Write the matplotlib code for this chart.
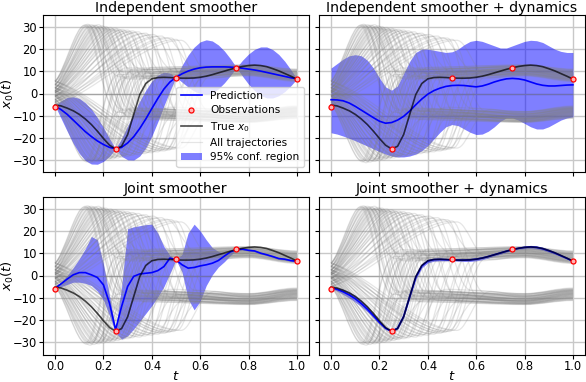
import numpy as np
import matplotlib
matplotlib.use("Agg")
import matplotlib.pyplot as plt
from matplotlib.path import Path
from matplotlib.patches import PathPatch, Patch
from matplotlib.lines import Line2D

# ---------------- data ----------------
t_grid = np.arange(41) * 0.025

obs_t = [0.0, 0.25, 0.5, 0.75, 1.0]
obs_v = [-5.9, -25.0, 7.2, 11.7, 6.5]

true_x0 = [-5.2, -5.6, -6.6, -7.8, -9.4, -11.5, -14.0, -17.0, -20.3, -23.3, -25.0,
           -23.8, -18.5, -9.5, -0.5, 4.5, 6.6, 7.2, 7.3, 7.2, 7.0,
           6.9, 6.9, 7.0, 7.3, 7.8, 8.5, 9.3, 10.1, 10.9, 11.6,
           12.2, 12.6, 12.8, 12.6, 12.1, 11.2, 10.2, 9.0, 7.8, 6.5]

# Independent smoother
pred1 = [-5.6, -7.3, -9.4, -12.0, -14.6, -17.2, -19.4, -21.4, -23.0, -24.3, -24.9,
         -24.3, -22.3, -19.5, -15.8, -11.5, -6.8, -2.2, 2.0, 5.2, 7.3,
         8.9, 10.1, 11.0, 11.6, 11.9, 12.0, 12.0, 12.0, 11.9, 11.7,
         11.4, 11.0, 10.6, 10.1, 9.5, 8.9, 8.3, 7.7, 7.1, 6.6]
lo1 = [-5.6, -11.3, -17.0, -22.5, -27.0, -30.2, -31.8, -31.9, -30.6, -28.3, -24.9,
       -28.3, -29.9, -30.0, -28.2, -24.5, -19.2, -12.7, -5.6, 1.2, 7.3,
       5.1, 2.9, 1.1, -0.1, -0.4, 0.3, 2.1, 4.8, 8.1, 11.7,
       7.8, 4.2, 1.3, -0.8, -2.0, -2.0, -1.0, 0.9, 3.5, 6.6]
hi1 = [-5.6, -3.3, -1.8, -1.5, -2.2, -4.2, -7.0, -10.9, -15.4, -20.3, -24.9,
       -20.3, -14.7, -9.0, -3.4, 1.5, 5.6, 8.3, 9.6, 9.2, 7.3,
       12.7, 17.3, 20.9, 23.3, 24.2, 23.7, 21.9, 19.2, 15.7, 11.7,
       15.0, 17.8, 19.9, 21.0, 21.0, 19.8, 17.6, 14.5, 10.7, 6.6]

# Independent smoother + dynamics
pred2 = [-2.8, -2.9, -3.3, -4.3, -5.8, -7.5, -9.2, -10.9, -12.5, -13.4, -13.1,
         -12.0, -10.3, -7.9, -5.1, -2.5, -0.3, 1.3, 2.4, 3.2, 3.6,
         3.7, 3.6, 3.3, 3.0, 3.4, 4.2, 5.2, 6.0, 6.6, 6.8,
         6.6, 6.1, 5.2, 4.3, 3.7, 3.4, 3.4, 3.6, 3.8, 3.9]
lo2 = [-17.7, -18.3, -19.2, -20.2, -21.3, -22.5, -23.7, -25.0, -26.2, -27.3, -28.2,
       -28.6, -28.6, -28.2, -27.3, -25.8, -23.5, -20.5, -17.5, -15.0, -14.0,
       -14.5, -16.0, -17.5, -18.5, -18.3, -17.0, -15.0, -12.5, -11.0, -11.0,
       -12.0, -13.5, -15.0, -16.0, -16.0, -15.0, -13.5, -12.0, -11.0, -10.5]
hi2 = [11.5, 13.5, 15.5, 17.0, 17.5, 17.0, 15.0, 11.5, 7.0, 3.0, 1.5,
       3.5, 9.0, 14.5, 18.5, 20.0, 20.0, 19.5, 19.0, 18.5, 18.8,
       20.0, 22.0, 23.5, 24.0, 23.5, 22.5, 21.5, 20.5, 20.5, 21.5,
       22.5, 23.5, 24.0, 23.8, 23.0, 21.5, 20.0, 19.0, 18.5, 18.5]

# Joint smoother
pred3 = [-5.7, -3.7, -1.6, 0.3, 1.3, 1.3, 0.3, -0.9, -4.2, -12.4, -24.3,
         -13.9, -4.9, -0.4, 0.7, 1.0, 1.3, 2.2, 4.0, 7.8, 7.0,
         4.8, 3.3, 3.6, 4.3, 4.8, 5.5, 6.7, 8.7, 10.6, 11.6,
         11.8, 11.3, 11.0, 10.0, 9.3, 8.5, 7.6, 7.3, 6.7, 6.3]
lo3 = [-5.7, -5.0, -4.0, -3.0, -3.0, -3.5, -4.5, -7.0, -11.0, -18.0, -25.5,
       -28.5, -27.0, -24.0, -20.5, -17.0, -13.5, -9.5, -5.0, 1.0, 7.0,
       1.5, -10.5, -15.4, -11.5, -4.5, 0.3, 3.8, 6.2, 9.0, 11.3,
       11.4, 10.9, 10.6, 9.6, 8.9, 8.1, 7.2, 6.9, 6.3, 6.0]
hi3 = [-5.7, -3.0, 0.0, 3.5, 7.5, 12.0, 17.5, 16.0, 5.0, -9.0, -24.0,
       -5.0, 21.0, 21.8, 22.3, 22.8, 23.0, 19.0, 13.0, 9.0, 7.0,
       9.5, 19.0, 23.0, 20.0, 16.0, 12.5, 10.8, 10.0, 10.8, 11.9,
       12.2, 11.7, 11.4, 10.4, 9.7, 8.9, 8.0, 7.7, 7.1, 6.6]

# Joint smoother + dynamics
pred4 = [-5.5, -6.2, -7.3, -8.7, -10.4, -12.6, -15.1, -18.0, -21.0, -23.6, -25.0,
         -23.6, -18.3, -9.5, -0.8, 4.3, 6.5, 7.1, 7.2, 7.1, 7.0,
         6.9, 6.9, 7.0, 7.3, 7.8, 8.5, 9.3, 10.1, 10.9, 11.6,
         12.2, 12.6, 12.8, 12.6, 12.0, 11.1, 10.1, 8.9, 7.7, 6.4]
lo4 = [-5.8, -7.0, -8.5, -10.1, -11.9, -14.0, -16.3, -19.0, -21.8, -24.2, -25.3,
       -24.2, -19.1, -10.5, -1.8, 3.4, 5.7, 6.4, 6.6, 6.6, 6.7,
       6.4, 6.3, 6.3, 6.6, 7.1, 7.8, 8.7, 9.5, 10.4, 11.3,
       11.7, 12.0, 12.1, 11.9, 11.3, 10.4, 9.5, 8.4, 7.3, 6.1]
hi4 = [-5.2, -5.4, -6.1, -7.3, -8.9, -11.2, -13.9, -17.0, -20.2, -23.0, -24.7,
       -23.0, -17.5, -8.5, 0.2, 5.2, 7.3, 7.8, 7.8, 7.6, 7.3,
       7.4, 7.5, 7.7, 8.0, 8.5, 9.2, 9.9, 10.7, 11.4, 11.9,
       12.7, 13.2, 13.5, 13.3, 12.7, 11.8, 10.7, 9.4, 8.1, 6.7]

# Background trajectories: start value, time and value of the first excursion,
# settled value, value near t=0.8 and final value (first 45 swing up, last 45 swing down)
traj_x0 = [5.5, 5.5, 5.5, 4.0, 5.5, 4.0, 4.0, 5.5, 2.5, 4.0, 2.5, 4.0, 2.5, 2.5, 4.0,
           1.3, 2.5, 1.3, 2.5, 1.3, 0.5, 1.3, 2.5, 0.5, 1.3, -1.2, 0.5, 1.3, -1.2, 0.5,
           -1.2, 0.5, -2.7, -1.2, 0.5, -2.7, -1.2, -3.7, -2.7, -1.2, -3.7, -4.9, -2.7, -3.7, -4.9,
           -4.9, -4.9, -3.7, -4.9, -3.7, -4.9, -2.7, -3.7, -2.7, -3.7, -1.2, -2.7, -1.2, -2.7, -0.5,
           -1.2, -2.7, -0.5, -1.2, 0.5, -0.5, -1.2, 1.3, -0.5, 0.5, 1.3, -0.5, 2.5, 0.5, 1.3,
           2.5, 0.5, 4.0, 1.3, 2.5, 4.0, 1.3, 5.5, 2.5, 4.0, 1.3, 5.5, 2.5, 4.0, 5.5]
traj_tp = [0.12, 0.125, 0.13, 0.135, 0.14, 0.145, 0.15, 0.155, 0.16, 0.165, 0.17, 0.175, 0.18, 0.185, 0.19,
           0.195, 0.20, 0.205, 0.21, 0.215, 0.22, 0.23, 0.235, 0.24, 0.25, 0.255, 0.26, 0.27, 0.28, 0.29,
           0.30, 0.31, 0.32, 0.33, 0.345, 0.36, 0.375, 0.39, 0.405, 0.42, 0.44, 0.46, 0.48, 0.50, 0.52,
           0.125, 0.13, 0.14, 0.145, 0.15, 0.155, 0.16, 0.17, 0.175, 0.18, 0.185, 0.19, 0.20, 0.205, 0.21,
           0.22, 0.225, 0.23, 0.24, 0.245, 0.25, 0.26, 0.27, 0.275, 0.28, 0.29, 0.30, 0.31, 0.32, 0.335,
           0.35, 0.36, 0.37, 0.385, 0.40, 0.41, 0.425, 0.44, 0.45, 0.46, 0.47, 0.48, 0.49, 0.505, 0.52]
traj_vp = [30.6, 31.0, 30.4, 31.2, 30.8, 30.2, 31.0, 30.5, 29.9, 30.8, 30.3, 29.7, 31.0, 30.1, 29.6,
           30.5, 29.9, 29.3, 30.2, 29.6, 29.0, 29.8, 29.2, 28.8, 29.5, 28.6, 29.1, 28.4, 28.9, 28.1,
           28.6, 27.8, 28.2, 27.4, 27.8, 27.0, 27.2, 26.4, 26.6, 25.8, 25.9, 25.2, 25.0, 24.4, 24.0,
           -30.2, -30.8, -30.0, -31.2, -30.5, -29.8, -30.9, -30.2, -29.6, -30.6, -29.9, -29.4, -30.3, -29.7, -29.0,
           -29.9, -29.3, -28.8, -29.5, -28.9, -28.4, -29.1, -28.5, -28.0, -28.7, -27.9, -28.3, -27.6, -27.9, -27.2,
           -27.6, -26.8, -27.1, -26.4, -26.7, -26.0, -26.3, -25.6, -25.9, -25.2, -25.5, -24.9, -25.1, -24.5, -24.6]
traj_ve = [-8.5, -10.5, 7.5, -7.0, -11.5, -9.0, 9.5, -8.0, -10.0, 6.5, -11.0, -7.5, -9.5, 10.5, -8.8,
           -6.8, 8.0, -10.8, -9.2, -7.8, 11.0, -11.8, -8.2, 7.0, -9.8, -7.2, 9.0, -10.4, -8.6, 6.2,
           -11.2, -9.4, 8.6, -7.4, -10.2, 10.0, -8.4, -11.6, 7.6, -9.0, -6.6, 9.8, -10.6, -8.0, 7.2,
           8.5, 10.5, -7.5, 7.0, 11.5, 9.0, -9.5, 8.0, 10.0, -6.5, 11.0, 7.5, 9.5, -10.5, 8.8,
           6.8, -8.0, 10.8, 9.2, 7.8, -11.0, 11.8, 8.2, -7.0, 9.8, 7.2, -9.0, 10.4, 8.6, -6.2,
           11.2, 9.4, -8.6, 7.4, 10.2, -10.0, 8.4, 11.6, -7.6, 9.0, 6.6, -9.8, 10.6, 8.0, -7.2]
traj_vm = [-10.3, -12.0, 9.0, -8.5, -12.8, -11.2, 11.0, -10.1, -11.4, 8.3, -12.6, -9.6, -11.0, 11.8, -10.9,
           -8.4, 9.9, -12.2, -11.3, -9.2, 12.2, -13.0, -10.4, 8.8, -11.5, -9.0, 10.6, -12.3, -10.2, 7.9,
           -12.6, -11.5, 10.1, -9.3, -11.8, 11.4, -10.6, -12.9, 9.4, -10.8, -8.2, 11.3, -12.4, -9.8, 8.9,
           10.1, 12.0, -9.4, 8.6, 12.8, 10.7, -11.3, 9.7, 11.5, -8.3, 12.4, 9.2, 11.0, -12.2, 10.4,
           8.3, -10.0, 12.1, 10.9, 9.3, -12.6, 12.9, 9.9, -8.9, 11.3, 8.7, -11.0, 11.9, 10.2, -8.1,
           12.5, 11.0, -10.6, 9.0, 11.7, -11.8, 10.0, 12.7, -9.5, 10.5, 8.2, -11.7, 12.0, 9.6, -9.1]
traj_vf = [-7.9, -9.9, 6.7, -6.4, -10.9, -8.4, 8.7, -7.4, -9.4, 5.7, -10.4, -6.9, -8.9, 9.7, -8.2,
           -6.2, 7.2, -10.2, -8.6, -7.2, 10.2, -11.2, -7.6, 6.2, -9.2, -6.6, 8.2, -9.8, -8.0, 5.4,
           -10.6, -8.8, 7.8, -6.8, -9.6, 9.2, -7.8, -11.0, 6.8, -8.4, -6.0, 9.0, -10.0, -7.4, 6.4,
           7.7, 9.7, -6.9, 6.2, 10.7, 8.2, -8.9, 7.2, 9.2, -5.9, 10.2, 6.7, 8.7, -9.9, 8.0,
           6.0, -7.4, 10.0, 8.4, 7.0, -10.4, 11.0, 7.4, -6.4, 9.0, 6.4, -8.4, 9.6, 7.8, -5.6,
           10.4, 8.6, -8.0, 6.6, 9.4, -9.4, 7.6, 10.8, -7.0, 8.2, 5.8, -9.2, 9.8, 7.2, -6.6]
flat_levels = [0.0, 0.0, 0.0]

titles = ["Independent smoother", "Independent smoother + dynamics",
          "Joint smoother", "Joint smoother + dynamics"]
preds = [pred1, pred2, pred3, pred4]
lows = [lo1, lo2, lo3, lo4]
highs = [hi1, hi2, hi3, hi4]

# ---------------- drawing ----------------
W, H = 586, 382
fig = plt.figure(figsize=(W / 100, H / 100), dpi=100)
col_x = [43 / W, 319 / W]
row_y = [1 - 172 / H, 1 - 354.5 / H]
aw = 266 / W
ah = [157 / H, 158 / H]

TRAJ_COLOR = "gray"
TRAJ_ALPHA = 0.2
OBS_KW = dict(ms=3.6, mfc="#ffb4b4", mec="red", mew=0.9)


def trajectory_path(x0, tp, vp, ve, vm, vf):
    ts = tp + 0.14
    verts = [(0.0, x0), (0.3 * tp, x0 + 0.15 * (vp - x0)), (0.7 * tp, vp), (tp, vp),
             (tp + 0.045, vp), (tp + 0.075, ve), (ts, ve),
             ((2 * ts + 0.8) / 3, ve), ((ts + 1.6) / 3, vm), (0.8, vm),
             (0.867, vm), (0.933, vf), (1.0, vf)]
    codes = [Path.MOVETO] + [Path.CURVE4] * 12
    return Path(verts, codes)


for i in range(4):
    r, c = divmod(i, 2)
    ax = fig.add_axes([col_x[c], row_y[r], aw, ah[r]])
    ax.set_xlim(-0.05, 1.05)
    ax.set_ylim(-35.4, 35.4)
    ax.grid(True, color="#c8c8c8", lw=1.0, zorder=0)
    ax.set_axisbelow(True)

    ax.fill_between(t_grid, lows[i], highs[i], color="blue", alpha=0.5, lw=0, zorder=1)

    for j in range(len(traj_x0)):
        p = trajectory_path(traj_x0[j], traj_tp[j], traj_vp[j], traj_ve[j], traj_vm[j], traj_vf[j])
        ax.add_patch(PathPatch(p, fill=False, edgecolor=TRAJ_COLOR, alpha=TRAJ_ALPHA, lw=0.9, zorder=2))
    for lev in flat_levels:
        ax.plot([0, 1], [lev, lev], color=TRAJ_COLOR, alpha=TRAJ_ALPHA, lw=0.9, zorder=2)

    ax.plot(t_grid, preds[i], color="blue", lw=1.2, zorder=3)
    ax.plot(t_grid, true_x0, color="black", alpha=0.7, lw=1.2, zorder=4)
    ax.plot(obs_t, obs_v, "o", zorder=5, **OBS_KW)

    ax.set_title(titles[i], fontsize=10.2, pad=2.2)
    ax.set_xticks([0, 0.2, 0.4, 0.6, 0.8, 1.0])
    ax.set_yticks([-30, -20, -10, 0, 10, 20, 30])
    ax.tick_params(labelsize=8.3, length=2.6, pad=1.6)
    if r == 0:
        ax.tick_params(labelbottom=False)
    else:
        ax.set_xlabel("$t$", fontsize=9.5)
        ax.xaxis.set_label_coords(0.5, -0.095)
    if c == 1:
        ax.tick_params(labelleft=False)
    else:
        ax.set_ylabel("$x_0(t)$", fontsize=9.5)
        ax.yaxis.set_label_coords(-0.1, 0.5)

    if i == 0:
        handles = [Line2D([], [], color="blue", lw=1.2),
                   Line2D([], [], ls="none", marker="o", **OBS_KW),
                   Line2D([], [], color="black", alpha=0.7, lw=1.2),
                   Line2D([], [], color=TRAJ_COLOR, alpha=TRAJ_ALPHA, lw=0.9),
                   Patch(facecolor="blue", alpha=0.5, lw=0)]
        labels = ["Prediction", "Observations", "True $x_0$", "All trajectories", "95% conf. region"]
        ax.legend(handles, labels, loc="lower right", fontsize=7.6, framealpha=0.8,
                  labelspacing=0.42)

fig.savefig("out.png", dpi=100)
